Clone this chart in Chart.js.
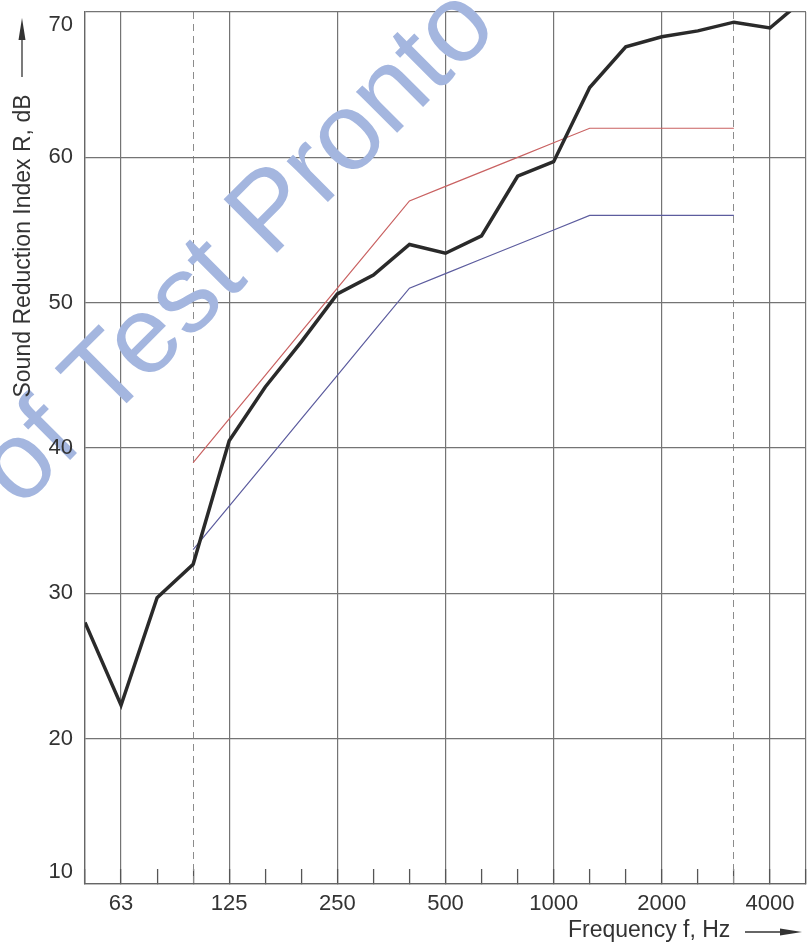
<!DOCTYPE html>
<html>
<head>
<meta charset="utf-8">
<script src="https://cdn.jsdelivr.net/npm/chart.js@4.4.0/dist/chart.umd.min.js"></script>
<style>
  html, body { margin: 0; padding: 0; background: #fff; }
  #wrap { width: 811px; height: 943px; position: relative; }
</style>
</head>
<body>
<div id="wrap"><canvas id="sri-chart"></canvas></div>
<script>
// 1/3 octave band centre frequencies, Hz
const freqs = ['50', '63', '80', '100', '125', '160', '200', '250', '315', '400', '500',
  '630', '800', '1000', '1250', '1600', '2000', '2500', '3150', '4000', '5000'];
const shownFreqs = ['63', '125', '250', '500', '1000', '2000', '4000'];
const dashedFreqs = ['100', '3150'];
const yTicks = [10, 20, 30, 40, 50, 60, 70];

// measured sound reduction index R, dB
const measured = [28, 22.3, 29.7, 32, 40.5, 44.2, 47.3, 50.6, 51.9, 54, 53.4,
  54.6, 58.7, 59.7, 64.8, 67.6, 68.3, 68.7, 69.3, 68.9, 71];
// shifted reference curve (upper, red) and reference curve (lower, blue)
const refUpper = [null, null, null, 39, 42, 45, 48, 51, 54, 57, 58,
  59, 60, 61, 62, 62, 62, 62, 62, null, null];
const refLower = [null, null, null, 33, 36, 39, 42, 45, 48, 51, 52,
  53, 54, 55, 56, 56, 56, 56, 56, null, null];

const FONT = '"Liberation Sans", Arial, sans-serif';
const TEXT = '#333';
const GRID = '#747474';

const decor = {
  id: 'decor',
  beforeDatasetsDraw(chart) {
    // watermark
    const ctx = chart.ctx;
    ctx.save();
    ctx.translate(20, 510);
    ctx.rotate(-Math.PI / 4);
    ctx.font = '110px ' + FONT;
    ctx.fillStyle = 'rgb(164,182,223)';
    ctx.textBaseline = 'alphabetic';
    ctx.fillText('of Test Pronto', 0, 0);
    ctx.restore();
  },
  afterDraw(chart) {
    const ctx = chart.ctx;
    const ys = chart.scales.y;
    ctx.save();
    ctx.fillStyle = TEXT;
    ctx.strokeStyle = TEXT;

    // y tick labels, kept inside the frame at both ends
    ctx.font = '22px ' + FONT;
    ctx.textAlign = 'right';
    ctx.textBaseline = 'middle';
    yTicks.forEach(v => {
      let py = ys.getPixelForValue(v);
      py = Math.min(Math.max(py, ys.top + 13), ys.bottom - 12);
      ctx.fillText(String(v), 73, py);
    });

    // y title + arrow
    ctx.font = '23px ' + FONT;
    ctx.save();
    ctx.translate(24, 246);
    ctx.rotate(-Math.PI / 2);
    ctx.textAlign = 'center';
    ctx.fillText('Sound Reduction Index R, dB', 0, 0);
    ctx.restore();
    ctx.lineWidth = 1.3;
    ctx.beginPath();
    ctx.moveTo(22, 77);
    ctx.lineTo(22, 36);
    ctx.stroke();
    ctx.beginPath();
    ctx.moveTo(22, 18);
    ctx.lineTo(18.5, 40);
    ctx.lineTo(25.5, 40);
    ctx.closePath();
    ctx.fill();

    // x title + arrow
    ctx.textAlign = 'left';
    ctx.textBaseline = 'middle';
    ctx.fillText('Frequency f, Hz', 568, 931);
    ctx.beginPath();
    ctx.moveTo(745, 932);
    ctx.lineTo(784, 932);
    ctx.stroke();
    ctx.beginPath();
    ctx.moveTo(802, 932);
    ctx.lineTo(780, 928.5);
    ctx.lineTo(780, 935.5);
    ctx.closePath();
    ctx.fill();
    ctx.restore();
  }
};

const ctx = document.getElementById('sri-chart').getContext('2d');
new Chart(ctx, {
  type: 'line',
  data: {
    labels: freqs,
    datasets: [
      { label: 'Measured', data: measured, borderColor: '#2a2a2a', borderWidth: 3.5, clip: 0 },
      { label: 'Shifted reference', data: refUpper, borderColor: '#c96262', borderWidth: 1.2 },
      { label: 'Reference', data: refLower, borderColor: '#5c5c9e', borderWidth: 1.2 }
    ]
  },
  options: {
    responsive: true,
    maintainAspectRatio: false,
    animation: false,
    devicePixelRatio: 1,
    layout: { autoPadding: false, padding: { top: 12, right: 5, left: 0, bottom: 0 } },
    elements: {
      point: { radius: 0 },
      line: { tension: 0, borderJoinStyle: 'miter' }
    },
    plugins: { legend: { display: false }, tooltip: { enabled: false } },
    scales: {
      x: {
        type: 'category',
        offset: false,
        grid: {
          offset: false,
          color: c => (c.index === 0 || c.index === freqs.length - 1 ||
            shownFreqs.includes(freqs[c.index])) ? GRID : 'rgba(0,0,0,0)',
          lineWidth: 1.2,
          tickLength: -15,
          tickColor: '#555',
          tickWidth: 1.3
        },
        border: { display: true, color: '#666', width: 1.3 },
        ticks: {
          autoSkip: false,
          maxRotation: 0,
          padding: 22,
          color: TEXT,
          font: { size: 22, family: FONT },
          callback: (v, i) => shownFreqs.includes(freqs[i]) ? freqs[i] : ''
        },
        afterFit: s => { s.height = 59; s.paddingLeft = 0; s.paddingRight = 0; }
      },
      x2: {
        type: 'category',
        labels: freqs,
        position: 'top',
        offset: false,
        grid: {
          offset: false,
          color: c => dashedFreqs.includes(freqs[c.index]) ? '#8c8c8c' : 'rgba(0,0,0,0)',
          lineWidth: 1,
          drawTicks: false
        },
        border: { display: false, dash: [7, 5] },
        ticks: { display: false }
      },
      y: {
        min: 10,
        max: 70,
        ticks: { stepSize: 10, display: false },
        grid: { color: GRID, lineWidth: 1.2, drawTicks: false },
        border: { display: true, color: '#666', width: 1.3 },
        afterFit: s => { s.width = 85; }
      }
    }
  },
  plugins: [decor]
});
</script>
</body>
</html>
